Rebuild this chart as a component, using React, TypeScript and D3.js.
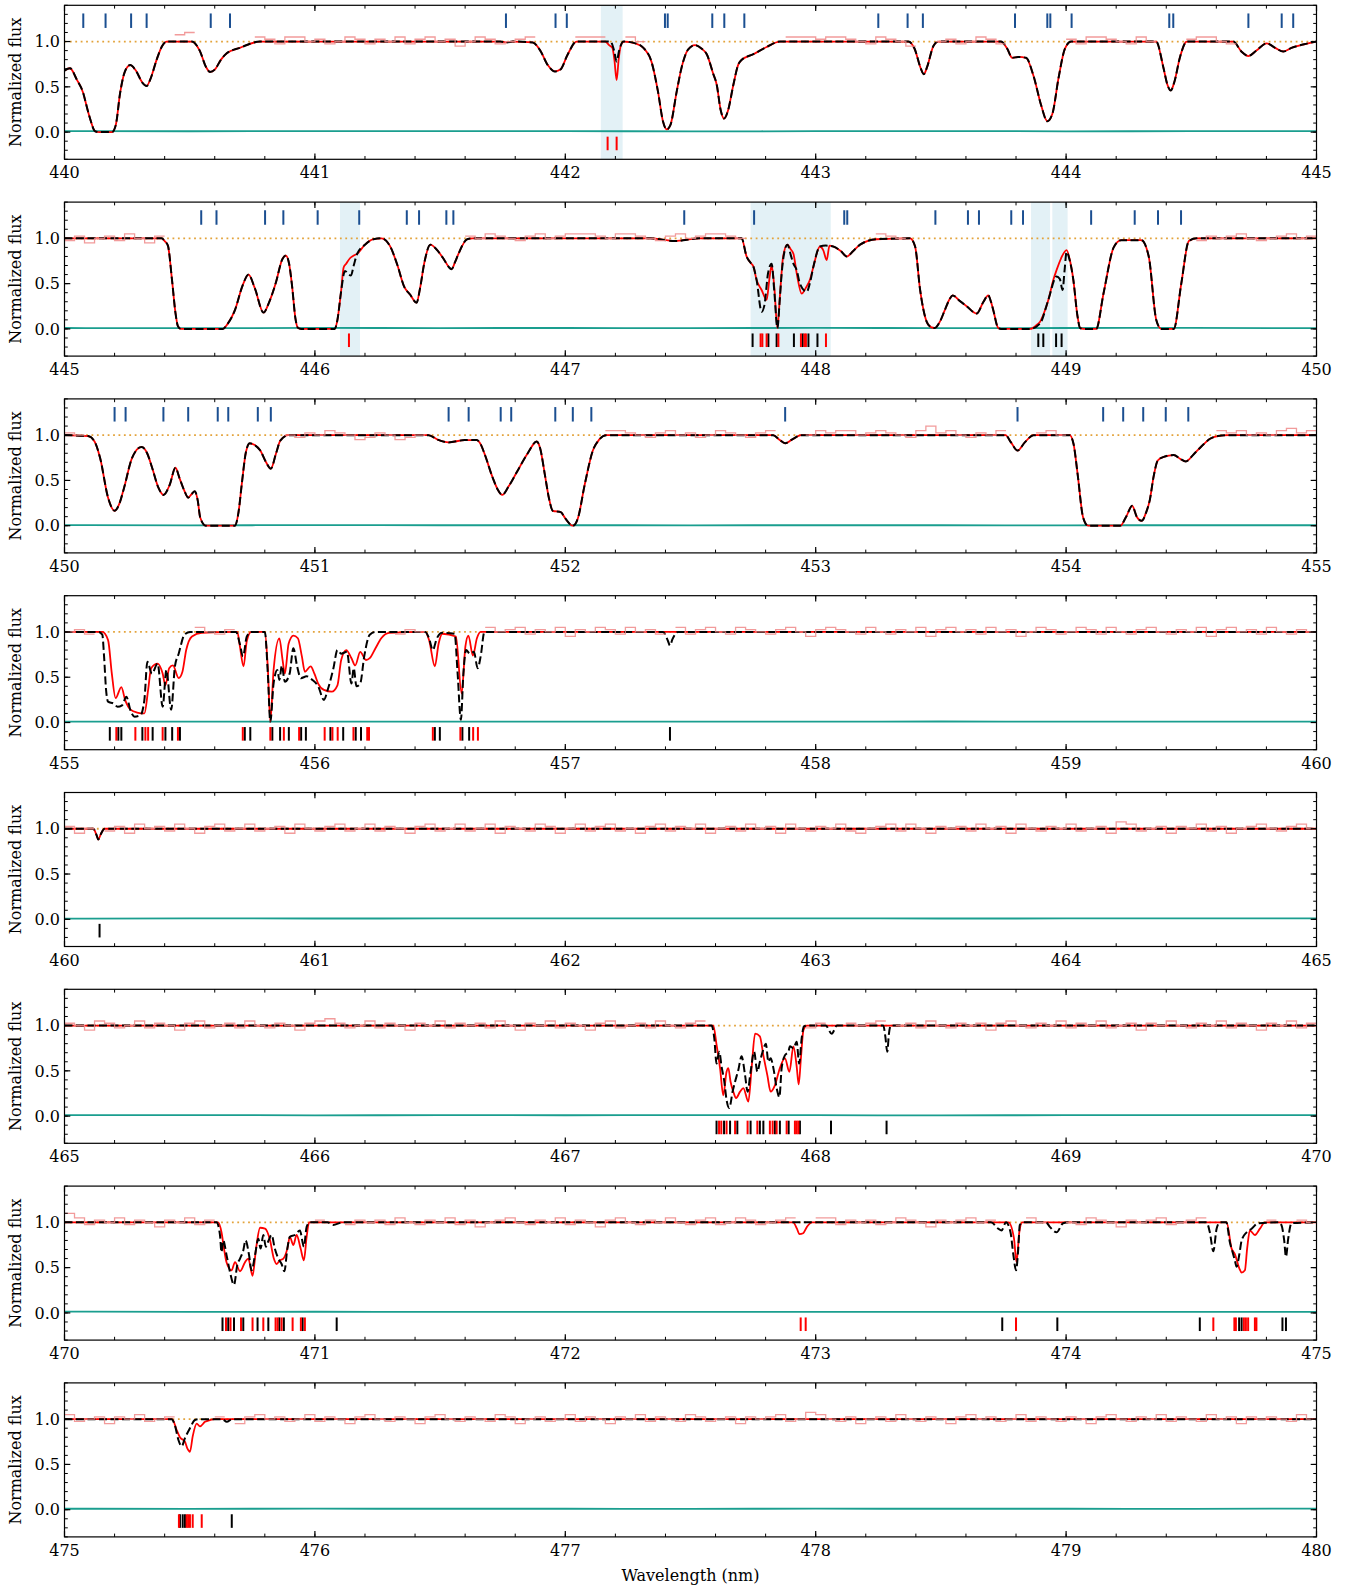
import React from 'react';
import * as d3 from 'd3';

type Pt = [number, number];

const FONT = '"DejaVu Serif", serif';
const PL = 64.5, PR = 1316.5, PH = 154, TOP0 = 5.3, STEP = 196.8;
const BIN = 0.04;
const NOISE_UNIT = 0.025; // noise arrays are written in steps of 0.025 flux
const YMIN = -0.3, YMAX = 1.4;

const panelStarts = [440, 445, 450, 455, 460, 465, 470, 475];

// ---------- panel 1 : 440-445 ----------
const black1: Pt[] = [
  [440.0, 0.68], [440.022, 0.705], [440.049, 0.58], [440.075, 0.43], [440.089, 0.28], [440.102, 0.15],
  [440.122, 0.01], [440.14, 0.0], [440.19, 0.0], [440.205, 0.08], [440.222, 0.43], [440.24, 0.66],
  [440.262, 0.74], [440.285, 0.68], [440.31, 0.55], [440.328, 0.51], [440.345, 0.6], [440.368, 0.8],
  [440.39, 0.95], [440.408, 1.0], [440.508, 1.0], [440.54, 0.9], [440.565, 0.72], [440.581, 0.665],
  [440.6, 0.69], [440.625, 0.8], [440.648, 0.87], [440.7, 0.93], [440.78, 1.0], [441.74, 1.0],
  [441.765, 0.99], [441.79, 1.0], [441.87, 0.99], [441.9, 0.9], [441.93, 0.74], [441.958, 0.67],
  [441.98, 0.69], [442.01, 0.86], [442.045, 1.0], [442.18, 1.0], [442.195, 0.9], [442.205, 0.78],
  [442.215, 0.9], [442.232, 1.0], [442.28, 0.98], [442.312, 0.93], [442.345, 0.77], [442.37, 0.45],
  [442.39, 0.12], [442.405, 0.03], [442.42, 0.08], [442.445, 0.45], [442.465, 0.72], [442.49, 0.91],
  [442.518, 0.96], [442.545, 0.92], [442.565, 0.86], [442.59, 0.65], [442.605, 0.52], [442.62, 0.25],
  [442.634, 0.15], [442.65, 0.24], [442.671, 0.52], [442.69, 0.74], [442.705, 0.8], [442.751, 0.86],
  [442.804, 0.94], [442.857, 1.0], [443.37, 1.0], [443.395, 0.92], [443.42, 0.7], [443.432, 0.64],
  [443.445, 0.72], [443.47, 0.95], [443.49, 1.0], [443.74, 1.0], [443.765, 0.92], [443.785, 0.82],
  [443.81, 0.83], [443.84, 0.82], [443.87, 0.62], [443.9, 0.3], [443.925, 0.12], [443.945, 0.2],
  [443.97, 0.6], [443.995, 0.92], [444.02, 1.0], [444.36, 1.0], [444.388, 0.72], [444.405, 0.52],
  [444.418, 0.46], [444.432, 0.55], [444.455, 0.83], [444.482, 1.0], [444.668, 1.0], [444.7, 0.89],
  [444.728, 0.84], [444.76, 0.9], [444.801, 0.98], [444.835, 0.93], [444.867, 0.89], [444.9, 0.93],
  [444.95, 0.97], [445.0, 1.0],
];
const redPatch1: Pt[][] = [
  [[442.16, 1.0], [442.175, 0.96], [442.188, 0.93], [442.196, 0.8], [442.205, 0.575], [442.213, 0.8], [442.222, 0.96], [442.235, 1.0]],
];
const noise1 = [
  0, 1, -1, 2, 0, 1, -2, 1, 0, 2, 2, 3, 4, 2, 2, 0, -1, 1, 0, 2,
  1, -1, 2, 2, 0, 1, -1, 0, 2, 1, -1, 1, 0, 2, -1, 1, 2, 0, 1, -2,
  0, 2, 1, -1, 0, 1, 2, -1, 2, 2, 1, 2, 2, 2, 2, 2, 2, 0, -1, 1,
  2, 1, 2, -1, 0, 1, 2, 1, 0, -2, 1, 2, 2, 2, 2, 1, 2, 2, 1, 0,
  -1, 2, 1, 0, -2, 1, 2, 0, 1, -1, 0, 2, 1, -1, 1, 0, -2, 1, 2, 0,
  1, -1, 2, 2, 1, 0, -1, 2, 0, 1, 2, 0, 1, 2, 2, 0, -1, 1, 2, 0,
  1, 2, 0, -1, 1,
];
const gaps1: Pt[] = [[440, 440.42], [440.52, 440.78], [441.88, 442.05], [442.16, 442.24], [442.3, 442.86], [443.38, 443.48], [443.74, 444.02], [444.36, 444.49], [444.66, 445]];
const resid1: Pt[] = [[440, 0.012], [440.5, 0.008], [441, 0.013], [441.5, 0.009], [442, 0.012], [442.5, 0.007], [443, 0.011], [443.5, 0.013], [444, 0.008], [444.5, 0.011], [445, 0.01]];
const blue1 = [440.075, 440.164, 440.266, 440.328, 440.584, 440.661, 441.763, 441.961, 442.006, 442.398, 442.409, 442.587, 442.635, 442.715, 443.25, 443.367, 443.428, 443.796, 443.925, 443.937, 444.022, 444.412, 444.428, 444.728, 444.861, 444.907];
const redTicks1 = [442.169, 442.205];
const blackTicks1: number[] = [];
const shade1: Pt[] = [[442.142, 442.229]];

// ---------- panel 2 : 445-450 ----------
const black2: Pt[] = [
  [445.0, 1.0], [445.388, 1.0], [445.4, 0.97], [445.413, 0.92], [445.429, 0.55], [445.443, 0.18],
  [445.453, 0.03], [445.465, 0.0], [445.632, 0.0], [445.65, 0.05], [445.681, 0.21], [445.71, 0.47],
  [445.735, 0.6], [445.76, 0.45], [445.795, 0.18], [445.815, 0.28], [445.844, 0.51], [445.87, 0.77],
  [445.884, 0.81], [445.897, 0.72], [445.909, 0.47], [445.922, 0.12], [445.933, 0.01], [445.945, 0.0],
  [446.079, 0.0], [446.09, 0.1], [446.104, 0.4], [446.12, 0.64], [446.135, 0.6], [446.144, 0.59],
  [446.155, 0.7], [446.169, 0.83], [446.2, 0.93], [446.234, 0.99], [446.266, 1.0], [446.299, 0.92],
  [446.33, 0.7], [446.356, 0.47], [446.38, 0.38], [446.406, 0.29], [446.42, 0.45], [446.437, 0.73],
  [446.461, 0.93], [446.485, 0.88], [446.51, 0.79], [446.546, 0.66], [446.56, 0.74], [446.575, 0.84],
  [446.608, 0.99], [446.63, 1.0], [447.34, 1.0], [447.437, 0.97], [447.535, 1.0], [447.704, 1.0],
  [447.724, 0.8], [447.74, 0.73], [447.751, 0.69], [447.764, 0.54], [447.784, 0.19], [447.795, 0.26],
  [447.81, 0.62], [447.824, 0.72], [447.835, 0.4], [447.847, 0.01], [447.856, 0.3], [447.864, 0.61],
  [447.875, 0.85], [447.887, 0.93], [447.9, 0.82], [447.911, 0.72], [447.924, 0.65], [447.937, 0.5],
  [447.964, 0.41], [447.978, 0.52], [447.991, 0.69], [448.017, 0.91], [448.04, 0.92], [448.07, 0.91],
  [448.1, 0.86], [448.124, 0.8], [448.15, 0.86], [448.177, 0.93], [448.243, 0.99], [448.377, 1.0],
  [448.397, 0.91], [448.417, 0.43], [448.443, 0.08], [448.46, 0.02], [448.476, 0.01], [448.496, 0.08],
  [448.516, 0.21], [448.535, 0.33], [448.547, 0.37], [448.575, 0.31], [448.603, 0.25], [448.643, 0.17],
  [448.67, 0.3], [448.689, 0.37], [448.7, 0.3], [448.709, 0.21], [448.729, 0.01], [448.74, 0.0],
  [448.856, 0.0], [448.896, 0.06], [448.929, 0.32], [448.962, 0.58], [448.975, 0.55], [448.986, 0.43],
  [448.994, 0.65], [449.002, 0.85], [449.015, 0.75], [449.029, 0.54], [449.045, 0.15], [449.056, 0.01],
  [449.07, 0.0], [449.12, 0.0], [449.15, 0.4], [449.19, 0.9], [449.22, 0.98], [449.3, 0.98],
  [449.33, 0.8], [449.36, 0.1], [449.38, 0.0], [449.43, 0.0], [449.46, 0.5], [449.49, 0.97],
  [449.52, 1.0], [450.0, 1.0],
];
const redPatch2: Pt[][] = [
  [[446.09, 0.1], [446.104, 0.4], [446.115, 0.68], [446.125, 0.72], [446.14, 0.78], [446.155, 0.81], [446.169, 0.83]],
  [[447.704, 1.0], [447.724, 0.8], [447.74, 0.73], [447.751, 0.69], [447.764, 0.54], [447.784, 0.43], [447.804, 0.32],
   [447.815, 0.55], [447.824, 0.7], [447.835, 0.45], [447.847, 0.01], [447.858, 0.4], [447.87, 0.8], [447.887, 0.93],
   [447.9, 0.88], [447.911, 0.83], [447.925, 0.6], [447.944, 0.39], [447.96, 0.45], [447.978, 0.55], [447.991, 0.69],
   [448.017, 0.91], [448.03, 0.87], [448.044, 0.76], [448.055, 0.92], [448.07, 0.91]],
  [[448.885, 0.05], [448.896, 0.08], [448.915, 0.2], [448.929, 0.32], [448.95, 0.55], [448.962, 0.65], [448.98, 0.78], [449.002, 0.87], [449.015, 0.76]],
];
const noise2 = [
  -1, 1, -2, 0, 1, -1, 2, 0, -2, 1, 0, 1, -1, 2, 0, 1, 0, -1, 1, 0,
  2, 1, 0, -1, 1, 0, 2, 1, -1, 0, 1, 2, 0, 1, -1, 0, 1, 2, 0, -1,
  1, 0, 2, 1, 0, -1, 1, 2, 0, 1, 2, 2, 2, 1, 0, 2, 2, 1, 0, -1,
  1, 2, 0, 1, 2, 2, 1, 0, -1, 1, 2, 0, 1, -1, 0, 2, 1, 2, 2, 0,
  1, 2, 1, 0, -2, 1, 0, 1, 2, 0, -1, 1, 0, 2, 1, 0, -1, 1, 2, 0,
  1, 0, -1, 1, 2, 0, 1, -1, 0, 2, 1, 0, 2, -1, 1, 0, 1, 2, 0, -1,
  0, 1, 2, 0, 1,
];
const gaps2: Pt[] = [[445.38, 446.62], [447.7, 448.25], [448.37, 449.53]];
const resid2: Pt[] = [[445, 0.01], [445.5, 0.007], [446, 0.012], [446.5, 0.009], [447, 0.011], [447.5, 0.008], [448, 0.012], [448.5, 0.009], [449, 0.01], [449.5, 0.012], [450, 0.009]];
const blue2 = [445.546, 445.607, 445.801, 445.874, 446.011, 446.177, 446.367, 446.416, 446.525, 446.553, 447.475, 447.754, 448.114, 448.126, 448.478, 448.608, 448.652, 448.781, 448.828, 449.1, 449.274, 449.367, 449.459];
const redTicks2 = [446.136, 447.78, 447.787, 447.804, 447.851, 447.941, 447.955, 447.961, 448.041];
const blackTicks2 = [447.748, 447.811, 447.844, 447.913, 447.948, 447.971, 448.007, 448.889, 448.909, 448.96, 448.982];
const shade2: Pt[] = [[446.1, 446.18], [447.74, 448.06], [448.86, 448.936], [448.945, 449.006]];

// ---------- panel 3 : 450-455 ----------
const black3: Pt[] = [
  [450.0, 1.0], [450.094, 0.99], [450.12, 0.93], [450.142, 0.75], [450.174, 0.31], [450.2, 0.165],
  [450.22, 0.25], [450.238, 0.42], [450.27, 0.75], [450.308, 0.87], [450.33, 0.8], [450.35, 0.64],
  [450.375, 0.42], [450.395, 0.34], [450.42, 0.45], [450.443, 0.64], [450.46, 0.52], [450.478, 0.39],
  [450.494, 0.31], [450.508, 0.35], [450.52, 0.38], [450.532, 0.28], [450.542, 0.09], [450.564, 0.0],
  [450.68, 0.0], [450.695, 0.15], [450.708, 0.46], [450.725, 0.82], [450.74, 0.91], [450.76, 0.89],
  [450.782, 0.83], [450.805, 0.7], [450.824, 0.63], [450.845, 0.8], [450.862, 0.94], [450.894, 1.0],
  [451.454, 1.0], [451.49, 0.95], [451.534, 0.92], [451.598, 0.945], [451.646, 0.945], [451.662, 0.9],
  [451.678, 0.79], [451.71, 0.53], [451.73, 0.4], [451.748, 0.34], [451.775, 0.44], [451.806, 0.59],
  [451.85, 0.8], [451.886, 0.93], [451.9, 0.85], [451.918, 0.57], [451.935, 0.3], [451.95, 0.165],
  [451.982, 0.15], [452.0, 0.08], [452.03, 0.0], [452.05, 0.08], [452.078, 0.46], [452.11, 0.83],
  [452.135, 0.95], [452.164, 1.0], [452.83, 1.0], [452.855, 0.95], [452.878, 0.91], [452.905, 0.95],
  [452.942, 1.0], [453.758, 1.0], [453.78, 0.92], [453.806, 0.83], [453.835, 0.92], [453.87, 1.0],
  [454.014, 1.0], [454.03, 0.9], [454.046, 0.57], [454.068, 0.09], [454.088, 0.0], [454.216, 0.0],
  [454.24, 0.1], [454.264, 0.22], [454.282, 0.1], [454.302, 0.055], [454.32, 0.15], [454.334, 0.28],
  [454.35, 0.55], [454.366, 0.72], [454.39, 0.76], [454.43, 0.78], [454.455, 0.74], [454.478, 0.71],
  [454.51, 0.79], [454.542, 0.88], [454.575, 0.96], [454.606, 0.99], [454.65, 1.0], [455.0, 1.0],
];
const redPatch3: Pt[][] = [];
const noise3 = [
  1, 0, 2, 1, -1, 0, 1, 2, 0, 1, 0, 1, -1, 2, 0, 1, 0, -1, 1, 0,
  2, 1, 0, -1, 1, 0, 2, 1, 0, -2, -1, 1, 0, -2, -1, 0, 1, -1, 0, 1,
  0, -2, 1, 0, 1, -1, 0, 2, 1, 0, 1, 2, 0, 1, 2, 2, 1, 0, -1, 1,
  2, 0, 1, -1, 0, 2, 1, 0, -1, 1, 2, 0, 1, -1, 0, 2, 1, 2, 2, 0,
  1, 2, 1, 0, -1, 2, 4, 1, 2, 0, -1, 1, 0, 2, 1, 0, -1, 1, 2, 0,
  1, 0, 2, 1, 2, 0, 1, -1, 0, 2, 1, 0, 2, -1, 1, 2, 1, 2, 0, 1,
  0, 2, 3, 1, 2,
];
const gaps3: Pt[] = [[450.08, 450.9], [451.45, 452.17], [452.83, 452.95], [453.75, 453.88], [454.0, 454.62]];
const resid3: Pt[] = [[450, 0.006], [450.5, 0.004], [451, 0.007], [451.5, 0.005], [452, 0.006], [452.5, 0.004], [453, 0.006], [453.5, 0.005], [454, 0.004], [454.5, 0.006], [455, 0.005]];
const blue3 = [450.2, 450.244, 450.395, 450.494, 450.612, 450.654, 450.772, 450.824, 451.534, 451.614, 451.742, 451.784, 451.96, 452.03, 452.104, 452.878, 453.806, 454.148, 454.228, 454.308, 454.398, 454.488];
const redTicks3: number[] = [];
const blackTicks3: number[] = [];
const shade3: Pt[] = [];

// ---------- panel 4 : 455-460 ----------
const black4: Pt[] = [
  [455.0, 1.0], [455.135, 1.0], [455.151, 0.97], [455.158, 0.73], [455.166, 0.36], [455.174, 0.23],
  [455.196, 0.21], [455.212, 0.175], [455.23, 0.19], [455.247, 0.285], [455.265, 0.12], [455.28, 0.065],
  [455.303, 0.08], [455.319, 0.25], [455.331, 0.67], [455.349, 0.54], [455.372, 0.65], [455.392, 0.175],
  [455.407, 0.58], [455.426, 0.14], [455.441, 0.62], [455.456, 0.76], [455.479, 0.97], [455.502, 1.0],
  [455.685, 1.0], [455.7, 0.87], [455.713, 0.73], [455.728, 0.95], [455.746, 1.0], [455.8, 1.0],
  [455.812, 0.54], [455.822, 0.01], [455.835, 0.43], [455.85, 0.58], [455.858, 0.47], [455.868, 0.63],
  [455.88, 0.45], [455.899, 0.54], [455.914, 0.82], [455.929, 0.62], [455.944, 0.49], [455.967, 0.51],
  [455.99, 0.47], [456.013, 0.4], [456.036, 0.25], [456.051, 0.36], [456.074, 0.6], [456.09, 0.8],
  [456.105, 0.76], [456.128, 0.78], [456.146, 0.43], [456.155, 0.6], [456.166, 0.4], [456.181, 0.43],
  [456.197, 0.73], [456.219, 0.97], [456.242, 1.0], [456.441, 1.0], [456.456, 0.93], [456.471, 0.8],
  [456.487, 0.93], [456.509, 0.99], [456.558, 0.98], [456.57, 0.54], [456.583, 0.03], [456.593, 0.54],
  [456.604, 0.8], [456.619, 0.76], [456.635, 0.78], [456.65, 0.6], [456.662, 0.73], [456.677, 1.0],
  [457.39, 1.0], [457.41, 0.9], [457.418, 0.85], [457.428, 0.92], [457.45, 1.0], [460.0, 1.0],
];
const redPatch4: Pt[][] = [
  [[455.151, 1.0], [455.174, 0.91], [455.189, 0.54], [455.204, 0.27], [455.227, 0.39], [455.242, 0.25], [455.265, 0.14],
   [455.29, 0.11], [455.319, 0.1], [455.334, 0.36], [455.346, 0.6], [455.372, 0.65], [455.392, 0.54], [455.403, 0.41],
   [455.418, 0.6], [455.433, 0.63], [455.456, 0.49], [455.471, 0.56], [455.486, 0.8], [455.509, 0.95], [455.548, 0.99]],
  [[455.69, 1.0], [455.7, 0.85], [455.715, 0.62], [455.728, 0.9], [455.746, 1.0]],
  [[455.8, 1.0], [455.812, 0.6], [455.822, 0.01], [455.835, 0.58], [455.858, 0.93], [455.871, 0.69], [455.88, 0.54],
   [455.895, 0.87], [455.914, 0.96], [455.932, 0.93], [455.948, 0.73], [455.96, 0.56], [455.983, 0.62], [455.998, 0.54],
   [456.013, 0.43], [456.036, 0.36], [456.067, 0.34], [456.09, 0.41], [456.105, 0.69], [456.125, 0.8], [456.146, 0.71],
   [456.161, 0.63], [456.181, 0.78], [456.204, 0.69], [456.219, 0.71], [456.242, 0.82], [456.265, 0.93], [456.296, 0.99]],
  [[456.441, 1.0], [456.456, 0.91], [456.479, 0.62], [456.494, 0.87], [456.509, 0.98], [456.563, 0.95], [456.586, 0.32],
   [456.601, 0.84], [456.613, 0.96], [456.631, 0.74], [456.647, 0.93], [456.662, 1.0]],
  [[457.38, 1.0], [457.46, 1.0]],
];
const noise4 = [
  0, 1, -1, 2, 0, 1, -1, 0, 2, 1, -1, 0, 1, 2, 0, -1, 1, 0, 1, 2,
  0, -1, 1, 0, 2, 1, 0, -1, 1, 0, 1, 2, 0, -1, 1, 0, 2, 1, -2, 0,
  1, -1, 2, 0, 1, 2, -1, 1, 0, 2, -2, 1, 0, 2, 1, -1, 2, 0, 1, -1,
  0, 2, -1, 1, 2, 0, -1, 2, 1, 0, -1, 1, 2, 0, -2, 1, 2, 1, 0, -1,
  2, 0, -1, 1, 0, 2, -2, 1, 2, 0, 1, -1, 2, 0, 1, -2, 0, 2, 1, -1,
  0, 2, 1, -1, 2, 0, -1, 1, 2, 0, -1, 1, 0, 2, -2, 1, 2, 0, 1, -1,
  2, 0, -1, 1, 0,
];
const gaps4: Pt[] = [[455.12, 455.52], [455.68, 456.3], [456.43, 456.69], [457.38, 457.46]];
const resid4: Pt[] = [[455, 0.01], [455.5, 0.008], [456, 0.012], [456.5, 0.009], [457, 0.011], [457.5, 0.008], [458, 0.01], [458.5, 0.012], [459, 0.009], [459.5, 0.011], [460, 0.01]];
const blue4: number[] = [];
const redTicks4 = [455.207, 455.283, 455.323, 455.334, 455.392, 455.453, 455.712, 455.822, 455.876, 455.937, 456.039, 456.07, 456.091, 456.154, 456.209, 456.216, 456.471, 456.581, 456.632, 456.651];
const blackTicks4 = [455.181, 455.215, 455.227, 455.311, 455.352, 455.403, 455.43, 455.461, 455.72, 455.742, 455.83, 455.861, 455.896, 455.945, 455.964, 456.062, 456.113, 456.163, 456.184, 456.479, 456.499, 456.589, 456.616, 457.418];
const shade4: Pt[] = [];

// ---------- panel 5 : 460-465 ----------
const black5: Pt[] = [[460.0, 1.0], [460.115, 1.0], [460.128, 0.93], [460.135, 0.88], [460.145, 0.94], [460.16, 1.0], [465.0, 1.0]];
const redPatch5: Pt[][] = [];
const noise5 = [
  1, -2, 0, 2, -1, 1, -2, 2, 0, 1, -1, 2, 0, -2, 1, 2, -1, 0, 2, -1,
  0, 1, -2, 2, 0, -1, 1, 2, -1, 0, 2, -1, 1, 0, -2, 1, 2, -1, 0, 2,
  -1, 0, 2, -2, 1, 0, -1, 2, 1, -2, 0, 2, -1, 1, 2, -1, 0, -2, 1, 2,
  -1, 1, 0, 2, -2, 0, 1, -1, 2, 0, 1, -2, 2, 0, -1, 1, 0, 2, -1, -2,
  0, 1, 2, -1, 2, 0, -2, 1, 0, 1, -1, 2, 0, 1, -2, 2, 0, -1, 1, 0,
  2, -1, 0, 1, -2, 3, 2, -1, 0, 1, -2, 1, 0, 2, -1, 1, -2, 0, 1, 2,
  0, -1, 1, 2, 0,
];
const gaps5: Pt[] = [[460.1, 460.17]];
const resid5: Pt[] = [[460, 0.008], [460.5, 0.011], [461, 0.008], [461.5, 0.01], [462, 0.012], [462.5, 0.009], [463, 0.011], [463.5, 0.008], [464, 0.01], [464.5, 0.012], [465, 0.01]];
const blue5: number[] = [];
const redTicks5: number[] = [];
const blackTicks5 = [460.14];
const shade5: Pt[] = [];

// ---------- panel 6 : 465-470 ----------
const black6: Pt[] = [
  [465.0, 1.0], [467.584, 1.0], [467.595, 0.86], [467.604, 0.58], [467.615, 0.71], [467.624, 0.55],
  [467.635, 0.38], [467.644, 0.18], [467.655, 0.09], [467.668, 0.27], [467.678, 0.38], [467.691, 0.51],
  [467.704, 0.66], [467.718, 0.45], [467.728, 0.27], [467.74, 0.49], [467.754, 0.71], [467.767, 0.49],
  [467.777, 0.6], [467.788, 0.71], [467.801, 0.8], [467.811, 0.6], [467.82, 0.64], [467.831, 0.53],
  [467.844, 0.31], [467.855, 0.21], [467.864, 0.53], [467.877, 0.67], [467.891, 0.71], [467.897, 0.77],
  [467.911, 0.75], [467.924, 0.82], [467.934, 0.58], [467.944, 0.86], [467.953, 0.99], [467.965, 1.0],
  [468.04, 1.0], [468.064, 0.91], [468.085, 1.0], [468.27, 1.0], [468.278, 0.88], [468.286, 0.71],
  [468.292, 0.9], [468.3, 1.0], [470.0, 1.0],
];
const redPatch6: Pt[][] = [
  [[467.591, 1.0], [467.604, 0.79], [467.618, 0.53], [467.631, 0.23], [467.644, 0.49], [467.651, 0.53], [467.66, 0.38],
   [467.671, 0.27], [467.682, 0.2], [467.698, 0.27], [467.711, 0.31], [467.731, 0.16], [467.744, 0.53], [467.758, 0.91],
   [467.777, 0.88], [467.791, 0.67], [467.807, 0.45], [467.82, 0.27], [467.837, 0.34], [467.857, 0.53], [467.877, 0.64],
   [467.895, 0.49], [467.911, 0.77], [467.924, 0.55], [467.932, 0.35], [467.941, 0.64], [467.951, 0.95], [467.965, 1.0],
   [468.1, 1.0]],
  [[468.26, 1.0], [468.31, 1.0]],
];
const noise6 = [
  1, 0, -2, 2, 1, -1, 0, 2, -1, 1, 0, -2, 1, 2, -1, 0, 1, -1, 2, 0,
  -1, 1, 0, -2, 1, 2, 3, 1, -1, 0, 2, -1, 1, 0, -2, 1, 0, 2, -1, 1,
  0, 1, -1, 2, 0, -2, 1, 0, 2, -1, 1, 0, -2, 1, 2, -1, 0, 1, -1, 2,
  0, -1, 1, 2, 0, -2, 1, 0, 2, 1, -1, 0, 2, 1, -1, 1, 0, -2, 1, 0,
  1, 2, -1, 0, 1, -1, 2, 0, -1, 1, 0, 1, -2, 1, 2, 0, -1, 1, 0, 2,
  -1, 1, 0, 2, -1, 0, 1, -2, 1, 0, 2, 0, -1, 1, 0, 2, -1, 1, 0, -2,
  1, 0, 2, -1, 1,
];
const gaps6: Pt[] = [[467.57, 467.97], [468.03, 468.1], [468.26, 468.31]];
const resid6: Pt[] = [[465, 0.01], [465.5, 0.012], [466, 0.008], [466.5, 0.011], [467, 0.009], [467.5, 0.012], [468, 0.01], [468.5, 0.008], [469, 0.011], [469.5, 0.012], [470, 0.01]];
const blue6: number[] = [];
const redTicks6 = [467.614, 467.623, 467.644, 467.678, 467.728, 467.767, 467.817, 467.828, 467.844, 467.884, 467.917, 467.924, 467.931];
const blackTicks6 = [467.604, 467.634, 467.658, 467.687, 467.74, 467.777, 467.791, 467.837, 467.857, 467.892, 467.937, 468.061, 468.283];
const shade6: Pt[] = [];

// ---------- panel 7 : 470-475 ----------
const black7: Pt[] = [
  [470.0, 1.0], [470.607, 1.0], [470.621, 0.86], [470.627, 0.67], [470.634, 0.8], [470.647, 0.64],
  [470.661, 0.45], [470.677, 0.31], [470.69, 0.53], [470.701, 0.6], [470.714, 0.69], [470.723, 0.8],
  [470.737, 0.64], [470.747, 0.47], [470.761, 0.64], [470.774, 0.82], [470.783, 0.71], [470.794, 0.86],
  [470.804, 0.73], [470.815, 0.8], [470.827, 0.86], [470.84, 0.71], [470.854, 0.6], [470.867, 0.54],
  [470.878, 0.46], [470.89, 0.71], [470.9, 0.84], [470.92, 0.86], [470.94, 0.91], [470.956, 0.73],
  [470.967, 0.95], [470.98, 1.0], [471.05, 1.0], [471.073, 0.97], [471.11, 1.0], [473.7, 1.0],
  [473.729, 0.93], [473.742, 0.91], [473.76, 1.0], [473.778, 0.89], [473.789, 0.65], [473.8, 0.47],
  [473.809, 0.71], [473.815, 0.97], [473.83, 1.0], [473.92, 1.0], [473.935, 0.95], [473.962, 0.89],
  [473.988, 0.99], [474.01, 1.0], [474.561, 1.0], [474.574, 0.89], [474.588, 0.68], [474.601, 0.93],
  [474.614, 1.0], [474.64, 1.0], [474.654, 0.78], [474.665, 0.67], [474.674, 0.58], [474.681, 0.51],
  [474.692, 0.65], [474.701, 0.8], [474.721, 0.89], [474.741, 0.93], [474.767, 0.99], [474.85, 1.0],
  [474.86, 0.97], [474.871, 0.8], [474.878, 0.62], [474.887, 0.82], [474.9, 0.99], [475.0, 1.0],
];
const redPatch7: Pt[][] = [
  [[470.614, 1.0], [470.627, 0.89], [470.637, 0.71], [470.647, 0.56], [470.667, 0.47], [470.681, 0.56], [470.701, 0.46],
   [470.721, 0.56], [470.734, 0.6], [470.751, 0.41], [470.765, 0.71], [470.781, 0.94], [470.801, 0.93], [470.821, 0.8],
   [470.836, 0.6], [470.847, 0.54], [470.86, 0.58], [470.874, 0.6], [470.89, 0.71], [470.9, 0.84], [470.914, 0.75],
   [470.927, 0.86], [470.943, 0.71], [470.956, 0.58], [470.967, 0.84], [470.977, 1.0]],
  [[471.04, 1.0], [471.12, 1.0]],
  [[472.91, 1.0], [472.925, 0.93], [472.935, 0.87], [472.95, 0.88], [472.965, 0.95], [472.985, 1.0]],
  [[473.7, 1.0], [473.77, 1.0], [473.792, 0.82], [473.802, 0.56], [473.813, 0.89], [473.825, 1.0], [474.02, 1.0]],
  [[474.55, 1.0], [474.641, 1.0], [474.661, 0.71], [474.674, 0.65], [474.692, 0.49], [474.701, 0.445], [474.714, 0.47],
   [474.723, 0.71], [474.734, 0.91], [474.754, 0.86], [474.774, 0.93], [474.794, 1.0], [474.92, 1.0]],
];
const noise7 = [
  4, 2, -1, 1, 0, 2, -1, 1, 0, -2, 1, 0, 2, -1, 1, 2, 0, -1, 1, 0,
  2, -1, 0, 1, -2, 1, 0, 2, -1, 1, 0, 1, -1, 2, 0, -1, 1, 0, 2, -1,
  1, -2, 0, 1, 2, 0, -1, 1, 0, 2, -1, 1, 0, -2, 1, 2, 0, -1, 1, 0,
  2, 0, -1, 1, 2, -1, 0, 2, 1, -1, 0, 1, 2, -1, 0, 2, 2, -1, 1, 0,
  1, -1, 0, 2, 1, 0, -2, 1, 0, 1, 2, 0, 1, -1, 0, 1, 2, 0, -1, 1,
  0, -1, 2, 1, 0, -2, 1, 0, 1, 2, -1, 0, 1, 2, 0, -1, 1, 0, 2, 0,
  1, -1, 0, 1, 0,
];
const gaps7: Pt[] = [[470.6, 470.99], [471.05, 471.1], [472.9, 473.0], [473.7, 473.83], [473.92, 474.0], [474.55, 474.8], [474.85, 474.91]];
const resid7: Pt[] = [[470, 0.014], [470.5, 0.011], [471, 0.014], [471.5, 0.01], [472, 0.013], [472.5, 0.011], [473, 0.012], [473.5, 0.01], [474, 0.013], [474.5, 0.011], [475, 0.012]];
const blue7: number[] = [];
const redTicks7 = [470.645, 470.663, 470.705, 470.751, 470.794, 470.843, 470.851, 470.867, 470.911, 470.944, 470.96, 472.94, 472.96, 473.8, 474.588, 474.672, 474.678, 474.71, 474.718, 474.727, 474.754, 474.76];
const blackTicks7 = [470.631, 470.654, 470.677, 470.714, 470.771, 470.814, 470.858, 470.876, 470.951, 471.087, 473.745, 473.965, 474.534, 474.691, 474.701, 474.864, 474.878];
const shade7: Pt[] = [];

// ---------- panel 8 : 475-480 ----------
const black8: Pt[] = [
  [475.0, 1.0], [475.428, 1.0], [475.441, 0.93], [475.455, 0.77], [475.468, 0.7], [475.481, 0.79],
  [475.501, 0.9], [475.521, 0.99], [475.54, 1.0], [475.63, 1.0], [475.648, 0.97], [475.67, 1.0], [480.0, 1.0],
];
const redPatch8: Pt[][] = [
  [[475.43, 1.0], [475.448, 0.88], [475.461, 0.8], [475.481, 0.75], [475.49, 0.68], [475.501, 0.64], [475.512, 0.81],
   [475.528, 0.95], [475.541, 0.92], [475.561, 0.97], [475.581, 0.99], [475.6, 1.0], [475.68, 1.0]],
];
const noise8 = [
  2, -1, 0, 1, -2, 1, 0, 2, -1, 0, 1, -1, 2, 0, -1, 1, 0, -2, 1, 2,
  0, 1, -1, 0, 2, -1, 1, 0, -2, 1, 2, 0, -1, 1, 0, -2, 1, 2, 0, -1,
  1, 0, -1, 2, 1, -2, 0, 1, -1, 0, 2, -1, 1, 0, -2, 1, 0, 2, -1, 1,
  0, -1, 2, 1, -1, 0, 1, -2, 1, 0, 1, 2, -1, 0, 3, 2, 0, -1, 1, -2,
  0, 1, -1, 2, 0, -1, 1, 0, -2, 1, 2, 0, 1, -1, 0, 2, -1, 1, 0, -1,
  1, 0, -2, 1, 2, 0, -1, 1, 0, 2, -1, 1, 0, -1, 2, 0, 1, -2, 1, 0,
  1, 0, -1, 2, 0,
];
const gaps8: Pt[] = [[475.42, 475.6], [475.63, 475.67]];
const resid8: Pt[] = [[475, 0.011], [475.5, 0.009], [476, 0.012], [476.5, 0.01], [477, 0.011], [477.5, 0.009], [478, 0.012], [478.5, 0.01], [479, 0.011], [479.5, 0.009], [480, 0.012]];
const blue8: number[] = [];
const redTicks8 = [475.457, 475.488, 475.494, 475.501, 475.512, 475.548];
const blackTicks8 = [475.461, 475.472, 475.481, 475.668];
const shade8: Pt[] = [];

const blackList = [black1, black2, black3, black4, black5, black6, black7, black8];
const redPatchList = [redPatch1, redPatch2, redPatch3, redPatch4, redPatch5, redPatch6, redPatch7, redPatch8];
const noiseList = [noise1, noise2, noise3, noise4, noise5, noise6, noise7, noise8];
const gapList = [gaps1, gaps2, gaps3, gaps4, gaps5, gaps6, gaps7, gaps8];
const residList = [resid1, resid2, resid3, resid4, resid5, resid6, resid7, resid8];
const blueList = [blue1, blue2, blue3, blue4, blue5, blue6, blue7, blue8];
const redTickList = [redTicks1, redTicks2, redTicks3, redTicks4, redTicks5, redTicks6, redTicks7, redTicks8];
const blackTickList = [blackTicks1, blackTicks2, blackTicks3, blackTicks4, blackTicks5, blackTicks6, blackTicks7, blackTicks8];
const shadeList = [shade1, shade2, shade3, shade4, shade5, shade6, shade7, shade8];

// red model = black model with the differing stretches swapped in
function withPatches(base: Pt[], patches: Pt[][]): Pt[] {
  const out = base.filter(p => !patches.some(pt => p[0] >= pt[0][0] && p[0] <= pt[pt.length - 1][0]));
  patches.forEach(pt => out.push(...pt));
  return out.sort((a, b) => a[0] - b[0]);
}

function Panel({ k }: { k: number }) {
  const start = panelStarts[k];
  const top = TOP0 + k * STEP;
  const bottom = top + PH;
  const x = d3.scaleLinear().domain([start, start + 5]).range([PL, PR]);
  const y = d3.scaleLinear().domain([YMIN, YMAX]).range([bottom, top]);

  const smooth = d3.line<Pt>().x(p => x(p[0])).y(p => y(p[1])).curve(d3.curveMonotoneX);
  const basis = d3.line<Pt>().x(p => x(p[0])).y(p => y(p[1])).curve(d3.curveBasis);

  const gaps = gapList[k];
  const inGap = (w: number) => gaps.some(g => w > g[0] && w < g[1]);
  // observed spectrum as a step line (hidden inside the absorption features)
  const obs: any[] = [];
  noiseList[k].forEach((n, i) => {
    const w0 = start + i * BIN;
    const ok = !inGap(w0 + BIN / 2);
    const v = 1 + n * NOISE_UNIT;
    const a: any = [w0, v]; a.ok = ok;
    const b: any = [w0 + BIN, v]; b.ok = ok;
    obs.push(a, b);
  });
  const stepLine = d3.line<any>().defined(p => p.ok).x(p => x(p[0])).y(p => y(p[1]));

  const red = withPatches(blackList[k], redPatchList[k]);
  const majors = d3.range(0, 6).map(i => start + i);
  const minors = d3.range(0, 26).map(i => start + i * 0.2);
  const yMajor = [0, 0.5, 1.0];
  const yMinor = d3.range(-3, 15).map(i => i / 10);
  const clipId = `clip${k}`;

  return (
    <g>
      <defs>
        <clipPath id={clipId}>
          <rect x={PL} y={top} width={PR - PL} height={PH} />
        </clipPath>
      </defs>
      <g clipPath={`url(#${clipId})`}>
        {shadeList[k].map((s, i) => (
          <rect key={i} x={x(s[0])} y={top} width={x(s[1]) - x(s[0])} height={PH} fill="#e3f1f6" />
        ))}
        <line x1={x(start)} x2={x(start + 5)} y1={y(1)} y2={y(1)} stroke="#e3a33b" strokeWidth={1.8} strokeDasharray="1.8,3.6" />
        <path d={basis(residList[k]) || ''} fill="none" stroke="#1a9e8f" strokeWidth={1.8} />
        <path d={smooth(red) || ''} fill="none" stroke="#ff0000" strokeWidth={1.8} />
        <path d={smooth(blackList[k]) || ''} fill="none" stroke="#000" strokeWidth={2} strokeDasharray="8,3.5" />
        <path d={stepLine(obs) || ''} fill="none" stroke="#f08a8a" strokeOpacity={0.85} strokeWidth={1.3} />
      </g>
      {blueList[k].map((w, i) => (
        <line key={'b' + i} x1={x(w)} x2={x(w)} y1={y(1.15)} y2={y(1.31)} stroke="#1b4f91" strokeWidth={2} />
      ))}
      {blackTickList[k].map((w, i) => (
        <line key={'k' + i} x1={x(w)} x2={x(w)} y1={y(-0.2)} y2={y(-0.05)} stroke="#000" strokeWidth={2} />
      ))}
      {redTickList[k].map((w, i) => (
        <line key={'r' + i} x1={x(w)} x2={x(w)} y1={y(-0.2)} y2={y(-0.05)} stroke="#ff0000" strokeWidth={2} />
      ))}
      <rect x={PL} y={top} width={PR - PL} height={PH} fill="none" stroke="#000" strokeWidth={1.2} />
      {minors.map((w, i) => (
        <g key={'xm' + i}>
          <line x1={x(w)} x2={x(w)} y1={bottom} y2={bottom - 3.3} stroke="#000" strokeWidth={1} />
          <line x1={x(w)} x2={x(w)} y1={top} y2={top + 3.3} stroke="#000" strokeWidth={1} />
        </g>
      ))}
      {majors.map((w, i) => (
        <g key={'xM' + i}>
          <line x1={x(w)} x2={x(w)} y1={bottom} y2={bottom - 5.8} stroke="#000" strokeWidth={1.2} />
          <line x1={x(w)} x2={x(w)} y1={top} y2={top + 5.8} stroke="#000" strokeWidth={1.2} />
          <text x={x(w)} y={bottom + 19} textAnchor="middle" fontFamily={FONT} fontSize={16} fill="#000">{d3.format('d')(w)}</text>
        </g>
      ))}
      {yMinor.map((v, i) => (
        <g key={'ym' + i}>
          <line x1={PL} x2={PL + 3.3} y1={y(v)} y2={y(v)} stroke="#000" strokeWidth={1} />
          <line x1={PR} x2={PR - 3.3} y1={y(v)} y2={y(v)} stroke="#000" strokeWidth={1} />
        </g>
      ))}
      {yMajor.map((v, i) => (
        <g key={'yM' + i}>
          <line x1={PL} x2={PL + 5.8} y1={y(v)} y2={y(v)} stroke="#000" strokeWidth={1.2} />
          <line x1={PR} x2={PR - 5.8} y1={y(v)} y2={y(v)} stroke="#000" strokeWidth={1.2} />
          <text x={PL - 4.5} y={y(v)} dy="0.36em" textAnchor="end" fontFamily={FONT} fontSize={16} fill="#000">{d3.format('.1f')(v)}</text>
        </g>
      ))}
      <text
        transform={`translate(20.5,${top + PH / 2}) rotate(-90)`}
        textAnchor="middle"
        fontFamily={FONT}
        fontSize={16}
        fill="#000"
      >Normalized flux</text>
    </g>
  );
}

export default function App() {
  return (
    <svg
      width={1363}
      height={1587}
      viewBox="0 0 1363 1587"
      style={{ position: 'absolute', left: 0, top: 0, background: '#fff' }}
    >
      <rect x={0} y={0} width={1363} height={1587} fill="#fff" />
      {panelStarts.map((s, k) => <Panel key={s} k={k} />)}
      <text x={(PL + PR) / 2} y={1581} textAnchor="middle" fontFamily={FONT} fontSize={16} fill="#000">Wavelength (nm)</text>
    </svg>
  );
}
